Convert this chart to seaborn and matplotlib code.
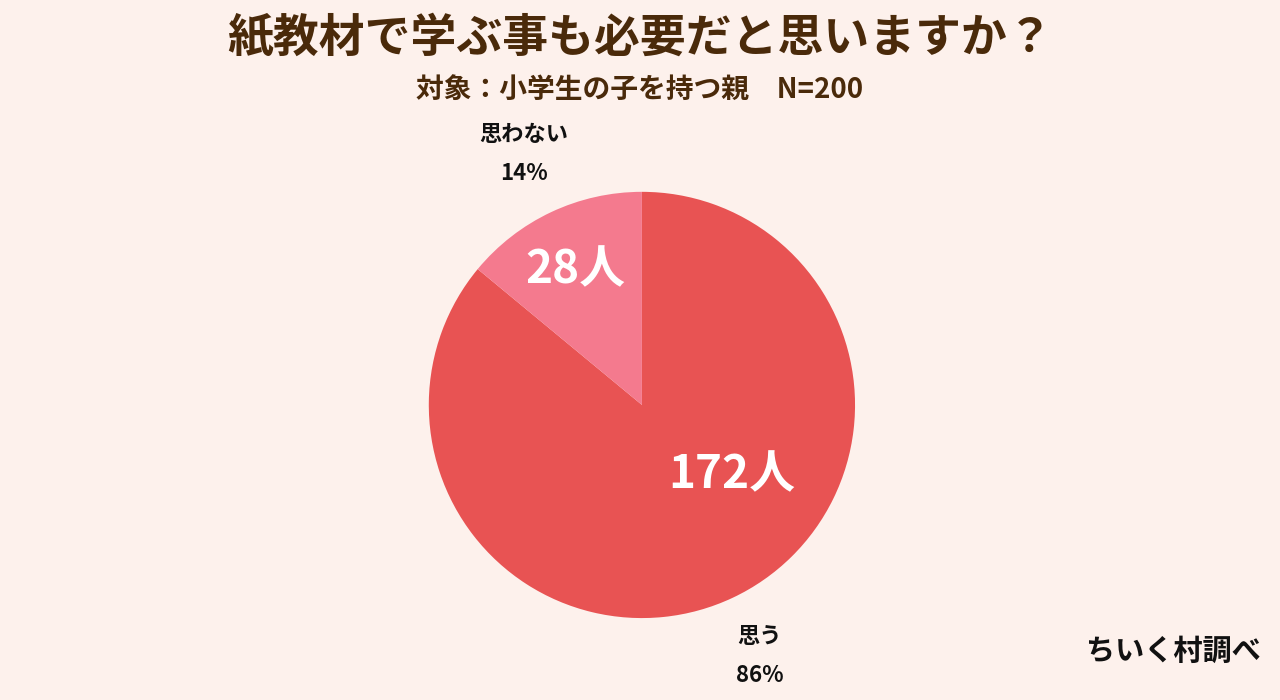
import matplotlib
matplotlib.use("Agg")
import matplotlib.pyplot as plt
import seaborn as sns
import numpy as np

categories = ["思う", "思わない"]
counts = [172, 28]
percents = ["86%", "14%"]
colors = ["#E85353", "#F47A8E"]

sns.set_theme(style="white")
plt.rcParams['font.family'] = ['Noto Sans CJK JP', 'DejaVu Sans']
bg = "#FDF1EC"
fig = plt.figure(figsize=(12.8, 7), dpi=100, facecolor=bg)
ax = fig.add_axes([0.335, 0.117, 0.333, 0.609])
ax.set_facecolor(bg)
labels = [f"{c}\n{p}" for c, p in zip(categories, percents)]
wedges, texts = ax.pie(counts, colors=colors, startangle=90, counterclock=False,
                       labels=labels, labeldistance=1.3,
                       wedgeprops=dict(linewidth=0),
                       textprops=dict(fontsize=16, fontweight='bold', color='#111111', linespacing=1.9))
for t in texts:
    t.set_ha('center'); t.set_va('center')
ax.set_xlim(-1, 1)
ax.set_ylim(-1, 1)
ax.set_aspect('equal')
ax.axis('off')
# inner labels
ax.text(0.42, -0.33, f"{counts[0]}人", ha='center', va='center',
        fontsize=33, fontweight='bold', color='white')
ax.text(-0.31, 0.63, f"{counts[1]}人", ha='center', va='center',
        fontsize=33, fontweight='bold', color='white')
fig.text(0.5, 0.945, "紙教材で学ぶ事も必要だと思いますか？", ha='center', va='center',
         fontsize=33, fontweight='bold', color='#4A2A0A')
fig.text(0.5, 0.872, "対象：小学生の子を持つ親　N=200", ha='center', va='center',
         fontsize=20, fontweight='bold', color='#4A2A0A')
fig.text(0.985, 0.07, "ちいく村調べ", ha='right', va='center',
         fontsize=21, fontweight='bold', color='#111111')
fig.savefig("out.png", facecolor=bg)
